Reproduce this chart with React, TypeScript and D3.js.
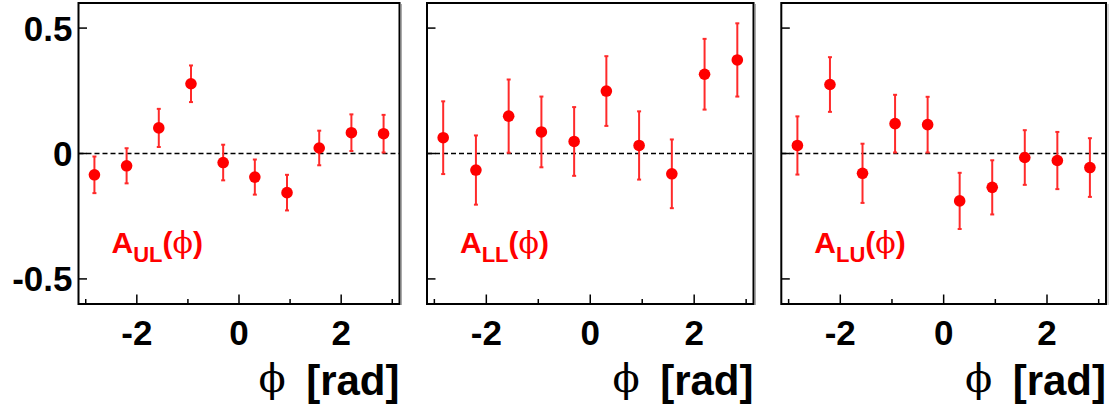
import React from "react";
import * as d3 from "d3";

const phiCenters = [-2.83, -2.2, -1.57, -0.94, -0.31, 0.31, 0.94, 1.57, 2.2, 2.83];

const aulValues = [-0.085, -0.049, 0.102, 0.278, -0.036, -0.094, -0.156, 0.022, 0.083, 0.079];
const aulErrors = [0.073, 0.07, 0.076, 0.073, 0.071, 0.07, 0.071, 0.069, 0.073, 0.075];

const allValues = [0.063, -0.066, 0.149, 0.086, 0.048, 0.249, 0.032, -0.081, 0.316, 0.373];
const allErrors = [0.145, 0.138, 0.146, 0.141, 0.137, 0.139, 0.136, 0.137, 0.141, 0.146];

const aluValues = [0.032, 0.275, -0.079, 0.119, 0.115, -0.189, -0.135, -0.016, -0.028, -0.056];
const aluErrors = [0.116, 0.109, 0.118, 0.115, 0.111, 0.112, 0.108, 0.109, 0.114, 0.117];

const yTickValues = [0.5, 0, -0.5];
const yTickLabels = ["0.5", "0", "-0.5"];
const xMajorTicks = [-2, 0, 2];
const xMajorLabels = ["-2", "0", "2"];
const xMinorTicks = [-3, -1, 1, 3];

const panelNames = ["UL", "LL", "LU"];
const panelValues = [aulValues, allValues, aluValues];
const panelErrors = [aulErrors, allErrors, aluErrors];

const W = 1114;
const H = 408;
const TOP = 3;
const BOTTOM = 304;
const panelLefts = [78.5, 427, 781.3];
const panelRights = [399.5, 753.5, 1106];

const SANS = "'Liberation Sans', Arial, Helvetica, sans-serif";
const SERIF = "'DejaVu Serif', 'Liberation Serif', serif";
const RED = "#ff0000";

function Panel({ idx }: { idx: number }) {
  const left = panelLefts[idx];
  const right = panelRights[idx];
  const x = d3.scaleLinear().domain([-Math.PI, Math.PI]).range([left, right]);
  const y = d3.scaleLinear().domain([-0.6, 0.6]).range([BOTTOM, TOP]);
  const vals = panelValues[idx];
  const errs = panelErrors[idx];
  return (
    <g>
      <line x1={right + 2} x2={right + 2} y1={TOP + 1} y2={BOTTOM + 1} stroke="#aaa" strokeWidth={1} />
      <line x1={left} x2={right} y1={y(0)} y2={y(0)} stroke="#000" strokeWidth={1.5} strokeDasharray="5,3" />
      {yTickValues.map((v, i) => (
        <line key={"yt" + i} x1={left} x2={left + 8.5} y1={y(v)} y2={y(v)} stroke="#000" strokeWidth={1.5} />
      ))}
      {xMajorTicks.map((v, i) => (
        <line key={"xM" + i} x1={x(v)} x2={x(v)} y1={BOTTOM} y2={BOTTOM - 9.5} stroke="#000" strokeWidth={1.5} />
      ))}
      {xMinorTicks.map((v, i) => (
        <line key={"xm" + i} x1={x(v)} x2={x(v)} y1={BOTTOM} y2={BOTTOM - 5} stroke="#000" strokeWidth={1.5} />
      ))}
      <rect x={left} y={TOP} width={right - left} height={BOTTOM - TOP} fill="none" stroke="#000" strokeWidth={2} />
      {vals.map((v, i) => {
        const cx = x(phiCenters[i]);
        const y1 = y(v + errs[i]);
        const y2 = y(v - errs[i]);
        return (
          <g key={"e" + i} stroke="#ff2a2a" strokeWidth={2}>
            <line x1={cx} x2={cx} y1={y1} y2={y2} />
            <line x1={cx - 2} x2={cx + 2} y1={y1} y2={y1} />
            <line x1={cx - 2} x2={cx + 2} y1={y2} y2={y2} />
          </g>
        );
      })}
      {vals.map((v, i) => (
        <circle key={"m" + i} cx={x(phiCenters[i])} cy={y(v)} r={5.8} fill={RED} />
      ))}
      {xMajorTicks.map((v, i) => (
        <text key={"xl" + i} x={x(v)} y={345} textAnchor="middle" fontFamily={SANS} fontWeight="bold" fontSize={35} fill="#000">
          {xMajorLabels[i]}
        </text>
      ))}
      {idx === 0 &&
        yTickValues.map((v, i) => (
          <text key={"yl" + i} x={left - 6} y={y(v) + 12.5} textAnchor="end" fontFamily={SANS} fontWeight="bold" fontSize={35} fill="#000">
            {yTickLabels[i]}
          </text>
        ))}
      <text x={right} y={395} textAnchor="end" fontFamily={SANS} fontWeight="bold" fontSize={42} fill="#000">
        [rad]
      </text>
      <text x={right - 141} y={392} textAnchor="start" fontFamily={SERIF} fontSize={40} fill="#000">
        ϕ
      </text>
      <text x={left + 33} y={253} fontFamily={SANS} fontWeight="bold" fontSize={30} fill={RED}>
        A
        <tspan fontSize={22} dy={9}>{panelNames[idx]}</tspan>
        <tspan dy={-9}>(</tspan>
        <tspan fontFamily={SERIF} fontWeight="normal">ϕ</tspan>
        <tspan>)</tspan>
      </text>
    </g>
  );
}

export default function App() {
  return (
    <svg width={W} height={H} style={{ position: "absolute", left: 0, top: 0, background: "#fff" }}>
      <rect width={W} height={H} fill="#fff" />
      {[0, 1, 2].map((i) => (
        <Panel key={i} idx={i} />
      ))}
    </svg>
  );
}
